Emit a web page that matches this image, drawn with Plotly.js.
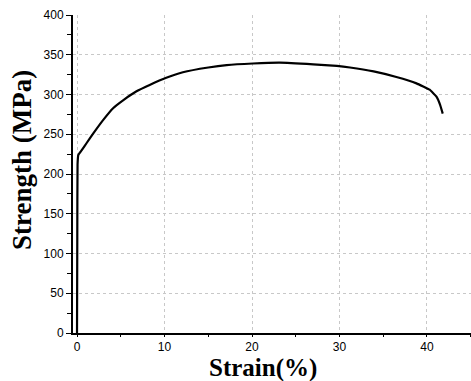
<!DOCTYPE html>
<html><head><meta charset="utf-8">
<script src="https://cdn.plot.ly/plotly-3.0.1.min.js"></script>
<style>html,body{margin:0;padding:0;background:#fff;}#chart{width:471px;height:381px;}</style>
</head><body><div id="chart"></div>
<script>
const strain = [0, 0.03, 0.06, 0.15, 0.54, 1.1, 1.86, 3.0, 4.15, 5.3, 6.8, 8.3, 10.2, 12.1, 15.0, 17.1, 20.1, 23.2, 27.0, 29.7, 31.2, 33.9, 36.5, 38.8, 40.3, 41.1, 41.5, 41.8];
const strength = [0, 120, 212, 224, 230, 239, 251, 268, 283, 293, 304, 312, 321, 328, 334, 337, 339, 340, 338, 336, 334, 329, 322, 314, 306, 297, 287, 276];
const xTicks = [0, 10, 20, 30, 40];
const yTicks = [0, 50, 100, 150, 200, 250, 300, 350, 400];
const xTitle = 'Strain(%)';
const yTitle = 'Strength (MPa)';

Plotly.newPlot('chart', [{
  x: strain, y: strength, type: 'scatter', mode: 'lines',
  line: {color: '#000', width: 2.2, shape: 'spline', smoothing: 0.3},
  hoverinfo: 'skip'
}], {
  width: 471, height: 381,
  margin: {l: 73, r: 0, t: 15, b: 48},
  paper_bgcolor: '#fff', plot_bgcolor: '#fff',
  showlegend: false,
  xaxis: {
    range: [-0.46, 45.03], tickvals: xTicks, ticktext: xTicks.map(String),
    ticks: 'outside', ticklen: 2, tickcolor: '#000', tickwidth: 1,
    showline: true, linecolor: '#000', linewidth: 2, zeroline: false,
    showgrid: true, gridcolor: '#c8c8c8', griddash: 'dot', gridwidth: 1,
    minor: {dtick: 5, tick0: 0, ticks: 'outside', ticklen: 2, tickcolor: '#000', showgrid: false},
    tickfont: {family: 'Arial, Liberation Sans', size: 12, color: '#000'}
  },
  yaxis: {
    range: [0, 400], tickvals: yTicks, ticktext: yTicks.map(String),
    ticks: 'outside', ticklen: 5, tickcolor: '#000', tickwidth: 1,
    showline: true, linecolor: '#000', linewidth: 2, zeroline: false,
    showgrid: true, gridcolor: '#c8c8c8', griddash: 'dot', gridwidth: 1,
    minor: {dtick: 25, tick0: 0, ticks: 'outside', ticklen: 4, tickcolor: '#000', showgrid: false},
    tickfont: {family: 'Arial, Liberation Sans', size: 12, color: '#000'}
  },
  annotations: [
    {text: xTitle, xref: 'paper', yref: 'paper', x: (263-73)/398, y: -(368-333)/318, xanchor: 'center', yanchor: 'middle', showarrow: false,
     font: {family: 'Times New Roman, Liberation Serif', size: 25, color: '#000', weight: 'bold'}},
    {text: yTitle, xref: 'paper', yref: 'paper', x: -(73-22)/398, y: (333-160)/318, xanchor: 'center', yanchor: 'middle', textangle: -90, showarrow: false,
     font: {family: 'Times New Roman, Liberation Serif', size: 27, color: '#000', weight: 'bold'}}
  ]
}, {staticPlot: true, displayModeBar: false});
</script></body></html>
